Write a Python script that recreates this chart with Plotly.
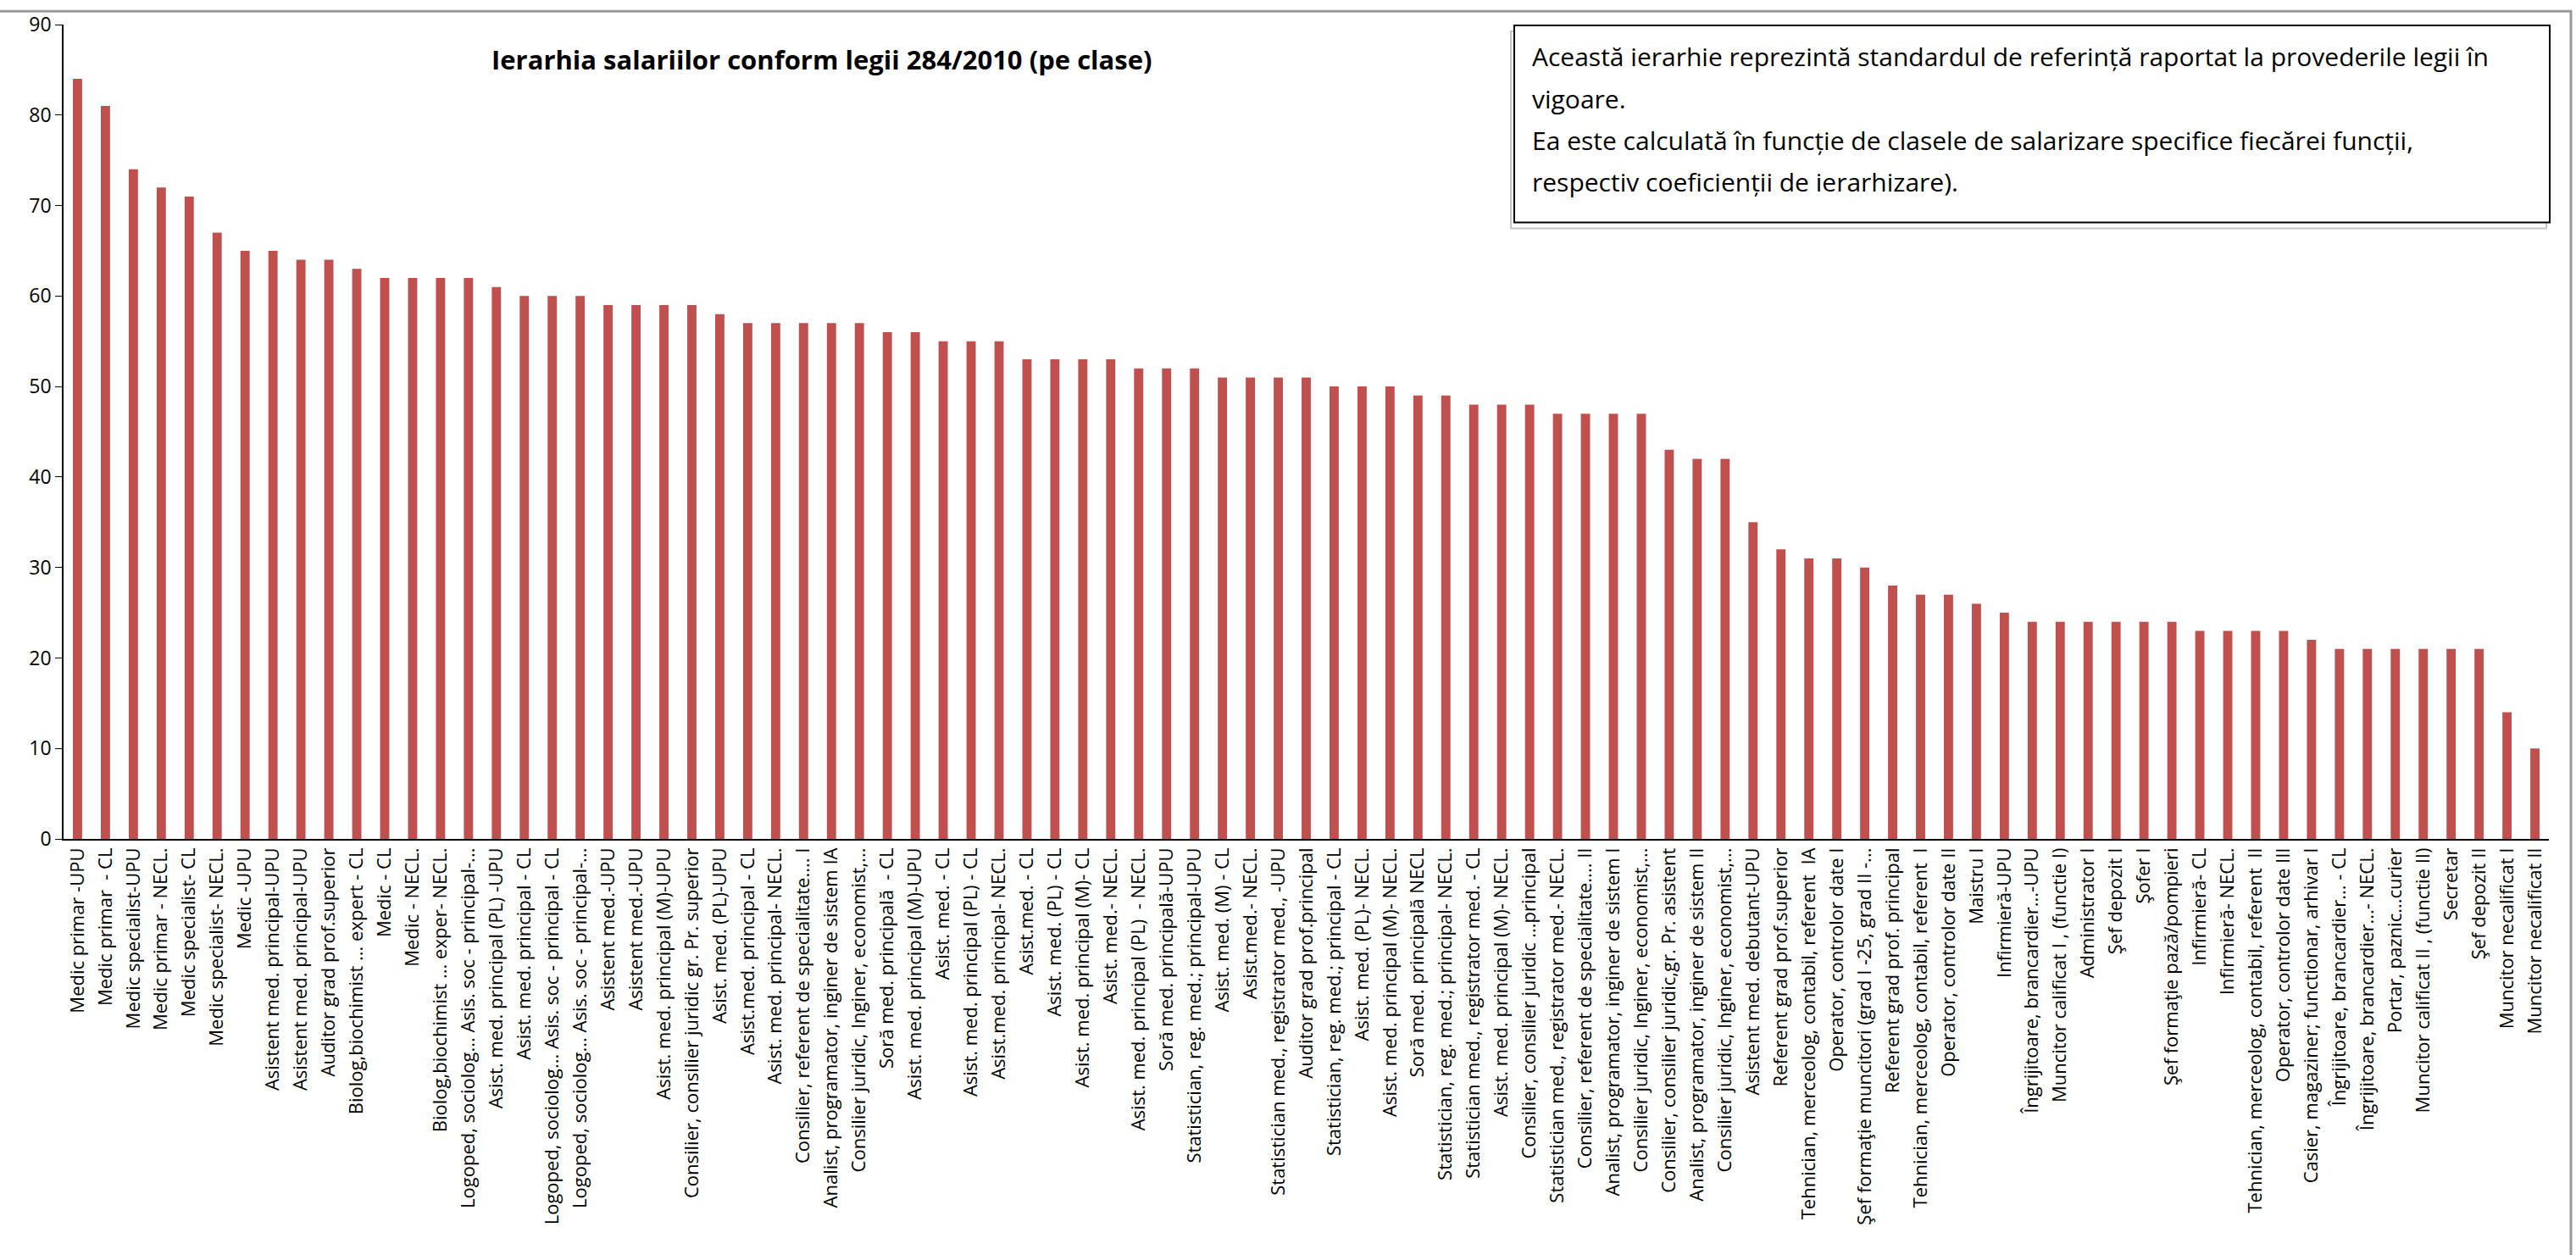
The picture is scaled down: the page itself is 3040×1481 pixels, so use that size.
import plotly.graph_objects as go

# Salary classes per job position, ordered from highest to lowest
functii = [
    "Medic primar -UPU",
    "Medic primar  - CL",
    "Medic specialist-UPU",
    "Medic primar - NECL.",
    "Medic specialist- CL",
    "Medic specialist- NECL.",
    "Medic -UPU",
    "Asistent med. principal-UPU",
    "Asistent med. principal-UPU",
    "Auditor grad prof.superior",
    "Biolog,biochimist ... expert - CL",
    "Medic - CL",
    "Medic - NECL.",
    "Biolog,biochimist ... exper- NECL.",
    "Logoped, sociolog... Asis. soc - principal-...",
    "Asist. med. principal (PL) -UPU",
    "Asist. med. principal - CL",
    "Logoped, sociolog... Asis. soc - principal - CL",
    "Logoped, sociolog... Asis. soc - principal-...",
    "Asistent med.-UPU",
    "Asistent med.-UPU",
    "Asist. med. principal (M)-UPU",
    "Consilier, consilier juridic gr. Pr. superior",
    "Asist. med. (PL)-UPU",
    "Asist.med. principal - CL",
    "Asist. med. principal- NECL.",
    "Consilier, referent de specialitate.... I",
    "Analist, programator, inginer de sistem IA",
    "Consilier juridic, Inginer, economist,...",
    "Soră med. principală  - CL",
    "Asist. med. principal (M)-UPU",
    "Asist. med. - CL",
    "Asist. med. principal (PL) - CL",
    "Asist.med. principal- NECL.",
    "Asist.med. - CL",
    "Asist. med. (PL) - CL",
    "Asist. med. principal (M)- CL",
    "Asist. med.- NECL.",
    "Asist. med. principal (PL)  - NECL.",
    "Soră med. principală-UPU",
    "Statistician, reg. med.; principal-UPU",
    "Asist. med. (M) - CL",
    "Asist.med.- NECL.",
    "Statistician med., registrator med., -UPU",
    "Auditor grad prof.principal",
    "Statistician, reg. med.; principal - CL",
    "Asist. med. (PL)- NECL.",
    "Asist. med. principal (M)- NECL.",
    "Soră med. principală NECL",
    "Statistician, reg. med.; principal- NECL.",
    "Statistician med., registrator med. - CL",
    "Asist. med. principal (M)- NECL.",
    "Consilier, consilier juridic ...principal",
    "Statistician med., registrator med.- NECL.",
    "Consilier, referent de specialitate.... II",
    "Analist, programator, inginer de sistem I",
    "Consilier juridic, Inginer, economist,...",
    "Consilier, consilier juridic,gr. Pr. asistent",
    "Analist, programator, inginer de sistem II",
    "Consilier juridic, Inginer, economist,...",
    "Asistent med. debutant-UPU",
    "Referent grad prof.superior",
    "Tehnician, merceolog, contabil, referent  IA",
    "Operator, controlor date I",
    "Şef formaţie muncitori (grad I -25, grad II -...",
    "Referent grad prof. principal",
    "Tehnician, merceolog, contabil, referent  I",
    "Operator, controlor date II",
    "Maistru I",
    "Infirmieră-UPU",
    "Îngrijitoare, brancardier...-UPU",
    "Muncitor calificat I , (functie I)",
    "Administrator I",
    "Şef depozit I",
    "Şofer I",
    "Şef formaţie pază/pompieri",
    "Infirmieră- CL",
    "Infirmieră- NECL.",
    "Tehnician, merceolog, contabil, referent  II",
    "Operator, controlor date III",
    "Casier, magaziner; functionar, arhivar I",
    "Îngrijitoare, brancardier... - CL",
    "Îngrijitoare, brancardier...- NECL.",
    "Portar, paznic...curier",
    "Muncitor calificat II , (functie II)",
    "Secretar",
    "Şef depozit II",
    "Muncitor necalificat I",
    "Muncitor necalificat II",
]

clase = [
    84, 81, 74, 72, 71, 67, 65, 65, 64, 64,
    63, 62, 62, 62, 62, 61, 60, 60, 60, 59,
    59, 59, 59, 58, 57, 57, 57, 57, 57, 56,
    56, 55, 55, 55, 53, 53, 53, 53, 52, 52,
    52, 51, 51, 51, 51, 50, 50, 50, 49, 49,
    48, 48, 48, 47, 47, 47, 47, 43, 42, 42,
    35, 32, 31, 31, 30, 28, 27, 27, 26, 25,
    24, 24, 24, 24, 24, 24, 23, 23, 23, 23,
    22, 21, 21, 21, 21, 21, 21, 14, 10,
]

y_ticks = [0, 10, 20, 30, 40, 50, 60, 70, 80, 90]

titlu = "Ierarhia salariilor conform legii 284/2010 (pe clase)"
nota = [
    "Această ierarhie reprezintă standardul de referință raportat la provederile legii în",
    "vigoare.",
    "Ea este calculată în funcție de clasele de salarizare specifice fiecărei funcții,",
    "respectiv coeficienții de ierarhizare).",
]

FONT = "'Open Sans', sans-serif"
W, H = 3040, 1481
ML, MR, MT, MB = 75, 32, 19, 491
PW, PH = W - ML - MR, H - MT - MB


def px_x(px):
    return (px - ML) / PW


def px_y(py):
    return 1 - (py - MT) / PH


pozitii = list(range(len(functii)))

fig = go.Figure(
    go.Bar(
        x=pozitii,
        y=clase,
        marker=dict(color="#C0504D", line=dict(width=0)),
        width=0.33,
        hovertext=functii,
    )
)

fig.update_layout(
    width=W,
    height=H,
    margin=dict(l=ML, r=MR, t=MT, b=MB),
    paper_bgcolor="white",
    plot_bgcolor="white",
    showlegend=False,
    font=dict(family=FONT, color="black", size=22),
)

fig.update_xaxes(
    range=[-0.5, len(functii) - 0.5],
    tickmode="array",
    tickvals=pozitii,
    ticktext=functii,
    tickangle=-90,
    tickfont=dict(size=22, family=FONT),
    showline=True,
    linecolor="black",
    linewidth=1.5,
    ticks="",
    showgrid=False,
    zeroline=False,
)

fig.update_yaxes(
    range=[0, 90],
    tickmode="array",
    tickvals=y_ticks,
    tickfont=dict(size=23, family=FONT),
    showline=True,
    linecolor="black",
    linewidth=1.5,
    ticks="outside",
    ticklen=8,
    tickcolor="black",
    showgrid=False,
    zeroline=False,
)

# Outer chart frame
fig.add_shape(
    type="rect", xref="paper", yref="paper",
    x0=px_x(-5), x1=px_x(3034), y0=px_y(1490), y1=px_y(3),
    line=dict(color="#9A9A9A", width=3),
    fillcolor="rgba(0,0,0,0)",
    layer="above",
)

# Chart title inside the plot area
fig.add_annotation(
    text="<b>" + titlu + "</b>",
    xref="paper", yref="paper",
    x=px_x(970), y=px_y(60),
    xanchor="center", yanchor="middle",
    showarrow=False,
    font=dict(size=31, family=FONT),
)

# Explanatory note in a framed box with a faint shadow, top right
fig.add_shape(
    type="rect", xref="paper", yref="paper",
    x0=px_x(1783), x1=px_x(3005), y0=px_y(262), y1=px_y(27),
    line=dict(color="#C4C4C4", width=2),
    fillcolor="white",
    layer="above",
)
fig.add_shape(
    type="rect", xref="paper", yref="paper",
    x0=px_x(1787), x1=px_x(3009), y0=px_y(255), y1=px_y(20),
    line=dict(color="black", width=2),
    fillcolor="white",
    layer="above",
)
line_px = [57, 107, 157, 206]
for txt, py in zip(nota, line_px):
    fig.add_annotation(
        text=txt,
        xref="paper", yref="paper",
        x=px_x(1806), y=px_y(py),
        xanchor="left", yanchor="middle",
        showarrow=False,
        font=dict(size=30, family=FONT),
    )

fig.write_html("out.html")
